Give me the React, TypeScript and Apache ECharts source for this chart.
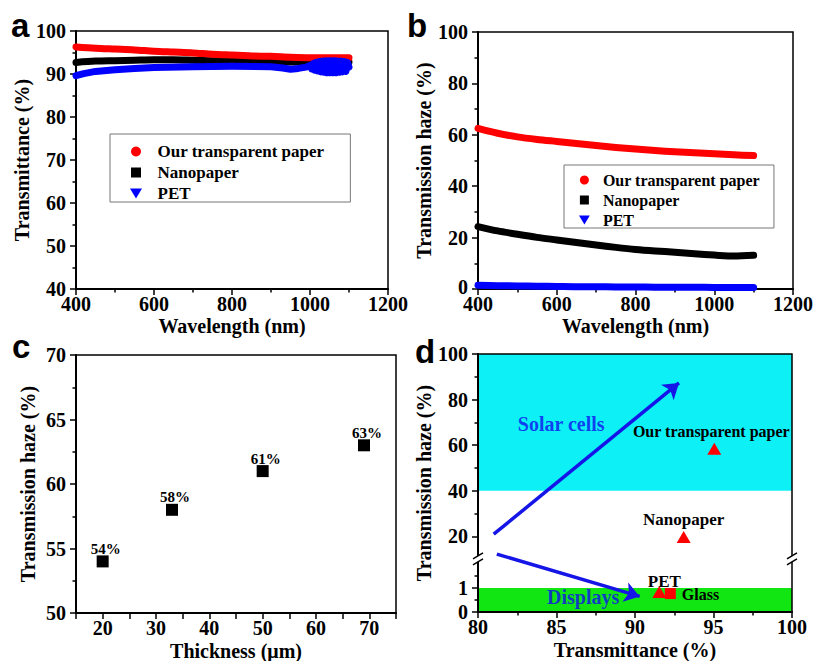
import { useEffect, useRef } from "react";
import * as echarts from "echarts";

const SERIF = "Liberation Serif";
const SANS = "Liberation Sans";

// ---------- Panel a / b : spectra ----------
const WAVELENGTH = [400, 450, 500, 550, 600, 650, 700, 750, 800, 850, 900, 950, 1000, 1050, 1100];
const A_PAPER = [96.3, 96.0, 95.8, 95.6, 95.3, 95.1, 94.9, 94.6, 94.4, 94.2, 94.1, 93.9, 93.8, 93.8, 93.8];
const A_NANO = [92.7, 93.0, 93.1, 93.2, 93.3, 93.3, 93.2, 93.1, 93.0, 92.9, 92.9, 92.8, 92.8, 92.8, 92.8];
const A_PET_WAVELENGTH = [
  400, 420, 450, 500, 550, 600, 700, 800, 900, 930, 950, 970, 990,
  1000, 1004, 1008, 1012, 1016, 1020, 1024, 1028, 1032, 1036, 1040, 1044, 1048, 1052,
  1056, 1060, 1064, 1068, 1072, 1076, 1080, 1084, 1088, 1092, 1096, 1100,
];
const A_PET = [
  89.6, 90.1, 90.6, 91.0, 91.3, 91.5, 91.7, 91.8, 91.7, 91.4, 91.1, 91.3, 91.6,
  92.0, 91.2, 92.4, 90.9, 92.7, 90.7, 92.9, 90.5, 93.0, 90.4, 93.1, 90.3, 93.1, 90.3,
  93.1, 90.3, 93.1, 90.3, 93.0, 90.4, 93.0, 90.5, 92.9, 90.6, 92.7, 91.6,
];

const B_PAPER = [62.5, 60.6, 59.2, 58.2, 57.4, 56.6, 55.8, 55.1, 54.5, 53.9, 53.4, 53.0, 52.6, 52.2, 51.9];
const B_NANO = [24.3, 22.6, 21.3, 20.1, 19.1, 18.1, 17.1, 16.2, 15.4, 14.8, 14.3, 13.7, 13.2, 12.8, 13.1];
const B_PET = [1.5, 1.3, 1.2, 1.1, 1.0, 0.9, 0.9, 0.8, 0.8, 0.7, 0.7, 0.7, 0.6, 0.6, 0.6];

const SERIES_NAMES = ["Our transparent paper", "Nanopaper", "PET"];
const SERIES_COLORS = ["#FF0000", "#000000", "#0000FF"];

// ---------- Panel c ----------
const C_THICKNESS = [20, 33, 50, 69];
const C_HAZE = [54, 58, 61, 63];

// ---------- Panel d ----------
const D_SAMPLES = ["Our transparent paper", "Nanopaper", "PET"];
const D_TRANSMITTANCE = [95.05, 93.1, 91.55];
const D_HAZE = [58.5, 19.8, 0.83];
const D_GLASS_T = [92.25];
const D_GLASS_H = [0.77];
const D_SOLAR_ARROW = [[81.0, 21.0], [92.8, 87.3]];
const D_DISPLAY_ARROW = [[81.2, 12.3], [90.3, 0.65]];
const D_REGION_TEXT = ["Solar cells", "Displays"];
const D_REGION_X = [85.3, 86.7];
const D_REGION_Y = [69.4, 0.62];
const D_SOLAR_BAND = [40, 100];
const D_DISPLAY_BAND = [0, 1];
const D_X_RANGE = [80, 100];
const D_TICKS_MAJOR = [0, 1, 20, 40, 60, 80, 100];
const D_TICKS_MINOR = [0.5, 1.5, 30, 50, 70, 90];
// broken y axis: lower segment 0..LOW_TOP stretched, upper segment HIGH_BOTTOM..100
const LOW_TOP = 2.2;
const HIGH_BOTTOM = 10;
const LOW_SCALE = 10.5;

function tr(v: number) {
  return v <= LOW_TOP ? v * LOW_SCALE : LOW_TOP * LOW_SCALE + (v - HIGH_BOTTOM);
}
function trInv(t: number) {
  return t <= LOW_TOP * LOW_SCALE + 1e-9 ? t / LOW_SCALE : t - LOW_TOP * LOW_SCALE + HIGH_BOTTOM;
}
const BREAK_T = LOW_TOP * LOW_SCALE;

const plain = (v: number) => String(v);
const labelBase = { color: "#000", fontFamily: SERIF, fontWeight: "bold", fontSize: 20, lineHeight: 12 };
const nameStyle = { color: "#000", fontFamily: SERIF, fontWeight: "bold", fontSize: 20 };
const axisLine = { show: true, onZero: false, lineStyle: { color: "#000", width: 2 } };
const axisTick = { show: true, length: 6, lineStyle: { color: "#000", width: 1.5 } };
const minorTick = { show: true, splitNumber: 2, length: 3.5, lineStyle: { color: "#000", width: 1.5 } };
const X_LABEL_MARGIN = 9;

function makeX(gridIndex: number, min: number, max: number, interval: number, name: string, nameGap: number, extra: any = {}) {
  return {
    type: "value",
    gridIndex,
    min,
    max,
    interval,
    name,
    nameGap,
    nameLocation: "middle",
    nameTextStyle: nameStyle,
    axisLine,
    axisTick,
    minorTick,
    splitLine: { show: false },
    minorSplitLine: { show: false },
    axisLabel: { ...labelBase, margin: X_LABEL_MARGIN, formatter: plain },
    ...extra,
  };
}
function makeY(gridIndex: number, min: number, max: number, interval: number | undefined, name: string, nameGap: number, extra: any = {}) {
  return {
    type: "value",
    gridIndex,
    min,
    max,
    interval,
    name,
    nameGap,
    nameLocation: "middle",
    nameTextStyle: nameStyle,
    axisLine,
    axisTick,
    minorTick,
    splitLine: { show: false },
    minorSplitLine: { show: false },
    axisLabel: { ...labelBase, margin: 10, formatter: plain },
    ...extra,
  };
}

const frame = {
  show: true,
  borderColor: "#000",
  borderWidth: 1.5,
  backgroundColor: "transparent",
  containLabel: false,
  outerBoundsMode: "none",
};

const LEGEND_ICONS = ["circle", "path://M0,0H10V10H0Z", "path://M0,0H12L6,10Z"];

function legendItems() {
  return SERIES_NAMES.map((name, i) => ({ name, icon: LEGEND_ICONS[i] }));
}

function spectrumSeries(gridIndex: number, xs: number[][], ys: number[][], order: number[], smooth: number[]) {
  return order.map((i) => ({
    type: "line",
    name: SERIES_NAMES[i],
    xAxisIndex: gridIndex,
    yAxisIndex: gridIndex,
    data: xs[i].map((w, k) => [w, ys[i][k]]),
    symbol: "none",
    smooth: smooth[i],
    color: SERIES_COLORS[i],
    itemStyle: { color: SERIES_COLORS[i], opacity: 1 },
    lineStyle: { color: SERIES_COLORS[i], width: 7, cap: "round", join: "round", opacity: 1 },
    z: 2 + order.indexOf(i) * 0.1,
  }));
}

const D_LABELS = [
  { position: "top", distance: 5, offset: [-3, 2], fontSize: 16 },
  { position: "top", distance: 5, offset: [0, 2], fontSize: 17 },
  { position: "top", distance: 0, offset: [5, 4], fontSize: 17 },
];

const letter = (text: string, x: number, y: number) => ({
  type: "text",
  x,
  y,
  style: { text, fontFamily: SANS, fontWeight: "bold", fontSize: 33, fill: "#000", verticalAlign: "middle" },
});

const option: any = {
  animation: false,
  backgroundColor: "#fff",
  textStyle: { fontFamily: SERIF, color: "#000" },
  grid: [
    { ...frame, left: 76, top: 31, width: 312, height: 258 },
    { ...frame, left: 478, top: 32, width: 315, height: 257 },
    { ...frame, left: 76, top: 355, width: 320, height: 258 },
    { ...frame, left: 478, top: 354, width: 314, height: 258, z: 4 },
  ],
  xAxis: [
    makeX(0, 400, 1200, 200, "Wavelength (nm)", 27),
    makeX(1, 400, 1200, 200, "Wavelength (nm)", 27),
    makeX(2, 15, 75, 5, "Thickness (\u03bcm)", 28, {
      minorTick: { show: false },
      axisLabel: { ...labelBase, margin: X_LABEL_MARGIN, formatter: (v: number) => (v % 10 === 0 ? String(v) : "") },
    }),
    makeX(3, D_X_RANGE[0], D_X_RANGE[1], 5, "Transmittance (%)", 28, { z: 4 }),
  ],
  yAxis: [
    makeY(0, 40, 100, 10, "Transmittance (%)", 39),
    makeY(1, 0, 100, 20, "Transmission haze (%)", 36, {
      axisLabel: {
        ...labelBase,
        margin: 10,
        formatter: (v: number) => (v === 0 ? "{lo|0}" : String(v)),
        rich: {
          lo: { color: "#000", fontFamily: SERIF, fontWeight: "bold", fontSize: 20, lineHeight: 12, padding: [0, 0, 5, 0] },
        },
      },
    }),
    makeY(2, 50, 70, 5, "Transmission haze (%)", 38),
    makeY(3, 0, tr(100), undefined, "Transmission haze (%)", 41, {
      z: 4,
      position: "left",
      minorTick: { show: false },
      axisTick: { ...axisTick, customValues: D_TICKS_MAJOR.map(tr) },
      axisLabel: {
        ...labelBase,
        margin: 10,
        customValues: D_TICKS_MAJOR.map(tr),
        formatter: (t: number) => String(Math.round(trInv(t) * 10) / 10),
      },
    }),
    {
      type: "value",
      gridIndex: 3,
      position: "left",
      offset: 0,
      min: 0,
      max: tr(100),
      z: 4,
      axisLine: { show: false },
      axisLabel: { show: false },
      splitLine: { show: false },
      axisTick: { show: true, length: 3.5, lineStyle: { color: "#000", width: 1.5 }, customValues: D_TICKS_MINOR.map(tr) },
    },
  ],
  legend: [
    {
      left: 110,
      top: 134,
      orient: "vertical",
      padding: [9, 26, 0, 20],
      itemGap: 4,
      itemWidth: 33,
      itemHeight: 10,
      borderColor: "#777",
      borderWidth: 1,
      selectedMode: false,
      itemStyle: { borderWidth: 0 },
      textStyle: { color: "#000", fontFamily: SERIF, fontWeight: "bold", fontSize: 17 },
      data: legendItems(),
    },
    {
      left: 564,
      top: 165,
      orient: "vertical",
      padding: [7, 14, 0, 15],
      itemGap: 4,
      itemWidth: 27,
      itemHeight: 9,
      borderColor: "#777",
      borderWidth: 1,
      selectedMode: false,
      itemStyle: { borderWidth: 0 },
      textStyle: { color: "#000", fontFamily: SERIF, fontWeight: "bold", fontSize: 16 },
      data: legendItems(),
    },
  ],
  graphic: [letter("a", 11, 25), letter("b", 407, 25), letter("c", 12, 346), letter("d", 415, 351)],
  series: [
    ...spectrumSeries(0, [WAVELENGTH, WAVELENGTH, A_PET_WAVELENGTH], [A_PAPER, A_NANO, A_PET], [1, 0, 2], [0.3, 0.3, 0]),
    ...spectrumSeries(1, [WAVELENGTH, WAVELENGTH, WAVELENGTH], [B_PAPER, B_NANO, B_PET], [1, 0, 2], [0.3, 0.3, 0.3]),
    {
      type: "scatter",
      name: "c-haze",
      xAxisIndex: 2,
      yAxisIndex: 2,
      symbol: "rect",
      symbolSize: 12,
      itemStyle: { color: "#000", opacity: 1 },
      data: C_THICKNESS.map((t, i) => [t, C_HAZE[i]]),
      label: {
        show: true,
        position: "top",
        distance: 0,
        offset: [3, 1],
        color: "#000",
        fontFamily: SERIF,
        fontWeight: "bold",
        fontSize: 15,
        formatter: (p: any) => `${p.value[1]}%`,
      },
    },
    {
      type: "scatter",
      name: "d-samples",
      xAxisIndex: 3,
      yAxisIndex: 3,
      symbol: "triangle",
      symbolSize: [14, 12],
      itemStyle: { color: "#FF0000", opacity: 1 },
      data: D_SAMPLES.map((name, i) => ({
        name,
        value: [D_TRANSMITTANCE[i], tr(D_HAZE[i])],
        label: { ...D_LABELS[i] },
      })),
      label: {
        show: true,
        formatter: "{b}",
        color: "#000",
        fontFamily: SERIF,
        fontWeight: "bold",
      },
      markArea: {
        silent: true,
        data: [
          [
            { yAxis: tr(D_SOLAR_BAND[0]), itemStyle: { color: "#0CF0F6", opacity: 1 } },
            { yAxis: tr(D_SOLAR_BAND[1]) },
          ],
          [
            { yAxis: tr(D_DISPLAY_BAND[0]), itemStyle: { color: "#12E612", opacity: 1 } },
            { yAxis: tr(D_DISPLAY_BAND[1]) },
          ],
        ],
      },
      z: 3,
    },
    {
      type: "scatter",
      name: "d-glass",
      xAxisIndex: 3,
      yAxisIndex: 3,
      symbol: "rect",
      symbolSize: 11,
      itemStyle: { color: "#FF0000", opacity: 1 },
      data: D_GLASS_T.map((t, i) => ({ name: "Glass", value: [t, tr(D_GLASS_H[i])] })),
      label: {
        show: true,
        position: "right",
        distance: 5,
        offset: [1, 1],
        formatter: "{b}",
        color: "#000",
        fontFamily: SERIF,
        fontWeight: "bold",
        fontSize: 16,
      },
      z: 3,
    },
    {
      type: "lines",
      name: "d-arrows",
      coordinateSystem: "cartesian2d",
      xAxisIndex: 3,
      yAxisIndex: 3,
      symbol: ["none", "arrow"],
      symbolSize: 15,
      lineStyle: { color: "#1515E8", width: 3.5, opacity: 1, curveness: 0 },
      data: [D_SOLAR_ARROW, D_DISPLAY_ARROW].map((arr) => ({ coords: arr.map(([x, y]) => [x, tr(y)]) })),
      z: 5,
    },
    {
      type: "scatter",
      name: "d-regions",
      xAxisIndex: 3,
      yAxisIndex: 3,
      symbolSize: 1,
      itemStyle: { color: "transparent" },
      data: D_REGION_TEXT.map((name, i) => ({ name, value: [D_REGION_X[i], tr(D_REGION_Y[i])] })),
      label: {
        show: true,
        position: "inside",
        formatter: "{b}",
        color: "#1010EE",
        fontFamily: SERIF,
        fontWeight: "bold",
        fontSize: 20,
      },
      z: 6,
    },
    {
      type: "custom",
      name: "d-break",
      xAxisIndex: 3,
      yAxisIndex: 3,
      clip: false,
      z: 10,
      data: D_X_RANGE.map((x) => [x, BREAK_T]),
      renderItem: (_params: any, api: any) => {
        const p = api.coord([api.value(0), api.value(1)]);
        const x = p[0];
        const y = p[1];
        return {
          type: "group",
          children: [
            { type: "rect", shape: { x: x - 3, y: y - 3.5, width: 6, height: 6 }, style: { fill: "#fff" } },
            { type: "line", shape: { x1: x - 5, y1: y - 0.5, x2: x + 5, y2: y - 6.5 }, style: { stroke: "#000", lineWidth: 1.5 } },
            { type: "line", shape: { x1: x - 5, y1: y + 5.5, x2: x + 5, y2: y - 0.5 }, style: { stroke: "#000", lineWidth: 1.5 } },
          ],
        };
      },
    },
  ],
};

export default function App() {
  const ref = useRef<HTMLDivElement>(null);
  useEffect(() => {
    const chart = echarts.init(ref.current!, null, { renderer: "svg" });
    chart.setOption(option);
    return () => chart.dispose();
  }, []);
  return (
    <div
      ref={ref}
      style={{ position: "fixed", left: 0, top: 0, width: 814, height: 661, background: "#fff" }}
    />
  );
}
